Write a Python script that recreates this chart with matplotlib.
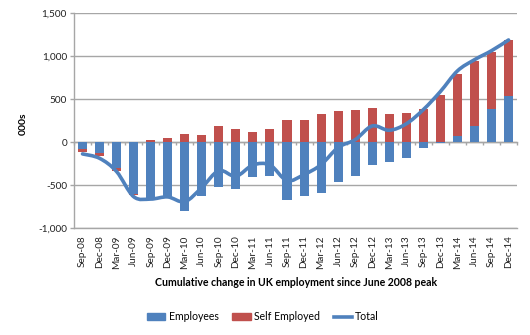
import matplotlib
matplotlib.use("Agg")
import matplotlib.pyplot as plt
from matplotlib.path import Path
from matplotlib.patches import PathPatch, Patch
from matplotlib.lines import Line2D
from matplotlib.ticker import FuncFormatter
import numpy as np

plt.rcParams['font.family'] = ['Lato', 'DejaVu Sans']

quarters = ["Sep-08", "Dec-08", "Mar-09", "Jun-09", "Sep-09", "Dec-09", "Mar-10",
            "Jun-10", "Sep-10", "Dec-10", "Mar-11", "Jun-11", "Sep-11", "Dec-11",
            "Mar-12", "Jun-12", "Sep-12", "Dec-12", "Mar-13", "Jun-13", "Sep-13",
            "Dec-13", "Mar-14", "Jun-14", "Sep-14", "Dec-14"]

employees = [-80, -128, -300, -600, -670, -650, -795, -624, -525, -543, -400, -390,
             -672, -624, -585, -461, -391, -260, -233, -182, -62, -12, 75, 192, 393, 538]

self_employed = [-35, -28, -28, -18, 27, 54, 97, 85, 190, 155, 120, 155,
                 260, 260, 329, 364, 375, 399, 329, 341, 387, 550, 722, 754, 654, 652]

total = [-135, -186, -340, -632, -660, -635, -690, -527, -330, -395, -264, -264,
         -445, -375, -260, -60, 30, 190, 140, 215, 380, 590, 830, 960, 1065, 1190]

yticks = [-1000, -500, 0, 500, 1000, 1500]

BLUE = "#4F81BD"
RED = "#C0504D"
GRID = "#A6A6A6"

fig = plt.figure(figsize=(5.3, 3.35), dpi=100)
ax = fig.add_axes([0.1396, 0.3185, 0.836, 0.6418])

x = np.arange(len(quarters))
emp = np.array(employees, dtype=float)
se = np.array(self_employed, dtype=float)

# Stack the way a spreadsheet does: positives above zero, negatives below
pos_base = np.zeros_like(emp)
neg_base = np.zeros_like(emp)
emp_bottom = np.where(emp >= 0, pos_base, neg_base)
pos_base = pos_base + np.where(emp >= 0, emp, 0)
neg_base = neg_base + np.where(emp < 0, emp, 0)
se_bottom = np.where(se >= 0, pos_base, neg_base)

bw = 0.53
ax.bar(x, emp, bw, bottom=emp_bottom, color=BLUE, zorder=3)
ax.bar(x, se, bw, bottom=se_bottom, color=RED, zorder=3)

# Smoothed total line (Catmull-Rom as cubic Bezier segments)
pts = np.column_stack([x, np.array(total, dtype=float)])
verts = [tuple(pts[0])]
codes = [Path.MOVETO]
n = len(pts)
for i in range(n - 1):
    p0 = pts[max(i - 1, 0)]
    p1 = pts[i]
    p2 = pts[i + 1]
    p3 = pts[min(i + 2, n - 1)]
    c1 = p1 + (p2 - p0) / 6.0
    c2 = p2 - (p3 - p1) / 6.0
    verts += [tuple(c1), tuple(c2), tuple(p2)]
    codes += [Path.CURVE4] * 3
ax.add_patch(PathPatch(Path(verts, codes), facecolor="none", edgecolor=BLUE,
                       lw=2.6, capstyle="round", joinstyle="round", zorder=4))

ax.set_xlim(-0.5, len(quarters) - 0.5)
ax.set_ylim(-1000, 1500)
ax.set_yticks(yticks)
ax.yaxis.set_major_formatter(FuncFormatter(lambda v, p: f"{int(v):,}"))
ax.grid(axis="y", color=GRID, lw=1.0, zorder=0)
ax.tick_params(axis="y", length=3, width=1.0, color=GRID, labelsize=7.2, pad=2,
               labelcolor="#222222")

for s in ["top", "right"]:
    ax.spines[s].set_visible(False)
ax.spines["left"].set_color(GRID)
ax.spines["left"].set_linewidth(1.0)

# Category axis line at zero with tick marks between categories
ax.spines["bottom"].set_position(("data", 0))
ax.spines["bottom"].set_color(GRID)
ax.spines["bottom"].set_linewidth(1.0)
ax.spines["bottom"].set_zorder(2)
ax.set_xticks(np.arange(-0.5, len(quarters), 1.0))
ax.set_xticklabels([])
ax.tick_params(axis="x", length=2.5, width=1.0, color=GRID, direction="out")

# Category labels along the bottom
sec = ax.secondary_xaxis(0.0)
sec.set_xticks(x)
sec.set_xticklabels(quarters, rotation=90, fontsize=7.2, color="#222222")
sec.tick_params(length=0, pad=5)
sec.spines["bottom"].set_color(GRID)
sec.spines["bottom"].set_linewidth(1.0)

fig.text(23 / 530, 1 - 124 / 335, "000s", rotation=90, ha="center", va="center",
         fontsize=7.5, fontweight="bold")
fig.text(296 / 530, 1 - 283 / 335, "Cumulative change in UK employment since June 2008 peak",
         ha="center", va="center", fontsize=7.6, fontweight="bold")

handles = [Patch(color=BLUE), Patch(color=RED), Line2D([], [], color=BLUE, lw=2.6)]
fig.legend(handles, ["Employees", "Self Employed", "Total"], loc="center",
           bbox_to_anchor=(263 / 530, 1 - 317 / 335), ncol=3, frameon=False,
           fontsize=7.6, handlelength=1.75, handleheight=0.6, handletextpad=0.3,
           columnspacing=1.3)

fig.savefig("out.png", dpi=100)
